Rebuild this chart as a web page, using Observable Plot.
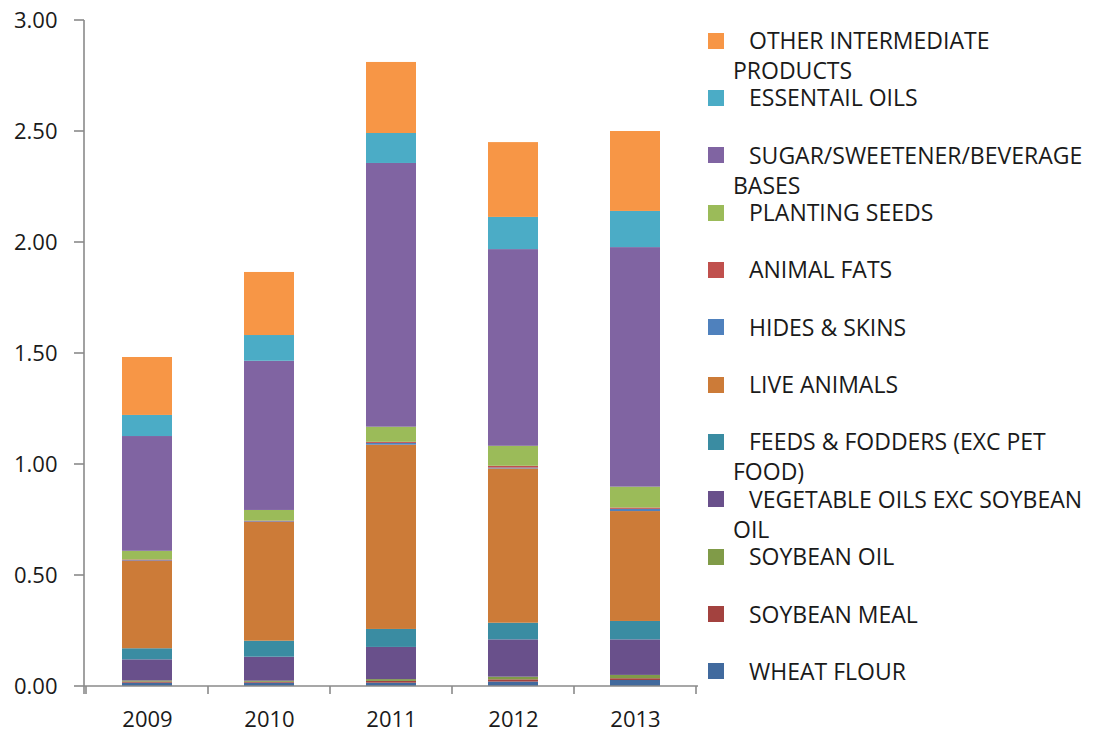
<!DOCTYPE html>
<html><head><meta charset="utf-8">
<script src="https://cdn.jsdelivr.net/npm/d3@7"></script>
<script src="https://cdn.jsdelivr.net/npm/@observablehq/plot@0.6"></script>
<style>
body{margin:0;background:#fff;width:1096px;height:734px;overflow:hidden;position:relative;font-family:"Open Sans",sans-serif;}
#chart{position:absolute;left:0;top:0;}
#legend{position:absolute;left:0;top:0;width:1096px;height:734px;}
.item{position:absolute;left:733px;width:363px;font-size:23px;line-height:30px;color:#1a1a1a;text-indent:16px;}
.sw{position:absolute;left:708px;width:16px;height:16px;}
</style></head><body>
<div id="chart"></div><div id="legend"></div>
<script>
const years = ["2009", "2010", "2011", "2012", "2013"];
const yTicks = [0, 0.5, 1, 1.5, 2, 2.5, 3];

// stacking order: bottom to top
const series = [
  "WHEAT FLOUR", "SOYBEAN MEAL", "SOYBEAN OIL", "VEGETABLE OILS EXC SOYBEAN OIL",
  "FEEDS & FODDERS (EXC PET FOOD)", "LIVE ANIMALS", "HIDES & SKINS", "ANIMAL FATS",
  "PLANTING SEEDS", "SUGAR/SWEETENER/BEVERAGE BASES", "ESSENTAIL OILS", "OTHER INTERMEDIATE PRODUCTS"
];
const colors = [
  "#416a9e", "#a3423f", "#809b48", "#69508b",
  "#3a8ca2", "#cc7b38", "#4f81bd", "#c0504d",
  "#9bbb59", "#8064a2", "#4bacc6", "#f79646"
];

const wheatFlour   = [0.015, 0.015, 0.015, 0.020, 0.027];
const soybeanMeal  = [0.005, 0.004, 0.008, 0.010, 0.008];
const soybeanOil   = [0.005, 0.005, 0.008, 0.012, 0.015];
const vegOils      = [0.095, 0.108, 0.145, 0.168, 0.160];
const feeds        = [0.050, 0.072, 0.081, 0.075, 0.083];
const liveAnimals  = [0.393, 0.535, 0.830, 0.695, 0.495];
const hidesSkins   = [0.003, 0.003, 0.008, 0.004, 0.010];
const animalFats   = [0.004, 0.003, 0.005, 0.008, 0.006];
const plantingSeeds= [0.039, 0.048, 0.068, 0.090, 0.094];
const sugar        = [0.517, 0.672, 1.188, 0.886, 1.079];
const essentialOils= [0.095, 0.116, 0.135, 0.145, 0.163];
const otherInter   = [0.261, 0.284, 0.320, 0.337, 0.360];

const seriesValues = [wheatFlour, soybeanMeal, soybeanOil, vegOils, feeds, liveAnimals,
  hidesSkins, animalFats, plantingSeeds, sugar, essentialOils, otherInter];

const data = series.flatMap((s, i) => years.map((yr, j) => ({series: s, year: yr, value: seriesValues[i][j]})));

function axesMark(index, scales, values, dims) {
  const {x, y} = scales;
  const left = dims.marginLeft;
  const right = dims.width - dims.marginRight;
  const y0 = y(0);
  const step = x(years[1]) - x(years[0]);
  const gap = (step - x.bandwidth()) / 2;
  const bounds = years.map(c => x(c) - gap).concat([x(years[years.length - 1]) - gap + step]);
  const g = d3.create("svg:g").attr("stroke", "#8a8a8a").attr("stroke-width", 1.6).attr("fill", "none");
  g.append("line").attr("x1", left).attr("x2", left).attr("y1", y(yTicks[yTicks.length - 1])).attr("y2", y0 + 8);
  for (const t of yTicks) g.append("line").attr("x1", left - 10).attr("x2", left).attr("y1", y(t)).attr("y2", y(t));
  g.append("line").attr("x1", left).attr("x2", right).attr("y1", y0).attr("y2", y0);
  for (const b of bounds) g.append("line").attr("x1", b).attr("x2", b).attr("y1", y0).attr("y2", y0 + 8);
  return g.node();
}

const plot = Plot.plot({
  width: 700, height: 734,
  marginLeft: 84, marginRight: 2, marginTop: 20, marginBottom: 48,
  style: {fontFamily: '"Open Sans", sans-serif', fontSize: "22px", color: "#1a1a1a", background: "transparent"},
  x: {domain: years, paddingInner: 0.59, paddingOuter: 0.295, label: null},
  y: {domain: [0, 3], label: null},
  color: {domain: series, range: colors},
  marks: [
    Plot.barY(data, {x: "year", y: "value", fill: "series"}),
    Plot.axisY(yTicks, {tickSize: 0, tickPadding: 27, tickFormat: d3.format(".2f"), label: null}),
    Plot.axisX({tickSize: 0, tickPadding: 25, label: null}),
    axesMark
  ]
});
document.getElementById("chart").appendChild(plot);

const legend = document.getElementById("legend");
const legendOrder = series.map((s, i) => i).reverse();
legendOrder.forEach((si, k) => {
  const top = 25 + k * 57.35;
  const sw = document.createElement("div");
  sw.className = "sw";
  sw.style.top = (top + 7.5) + "px";
  sw.style.background = colors[si];
  legend.appendChild(sw);
  const it = document.createElement("div");
  it.className = "item";
  it.style.top = top + "px";
  it.textContent = series[si].replace(/\//g, "/\u2060");
  legend.appendChild(it);
});
</script>
</body></html>
